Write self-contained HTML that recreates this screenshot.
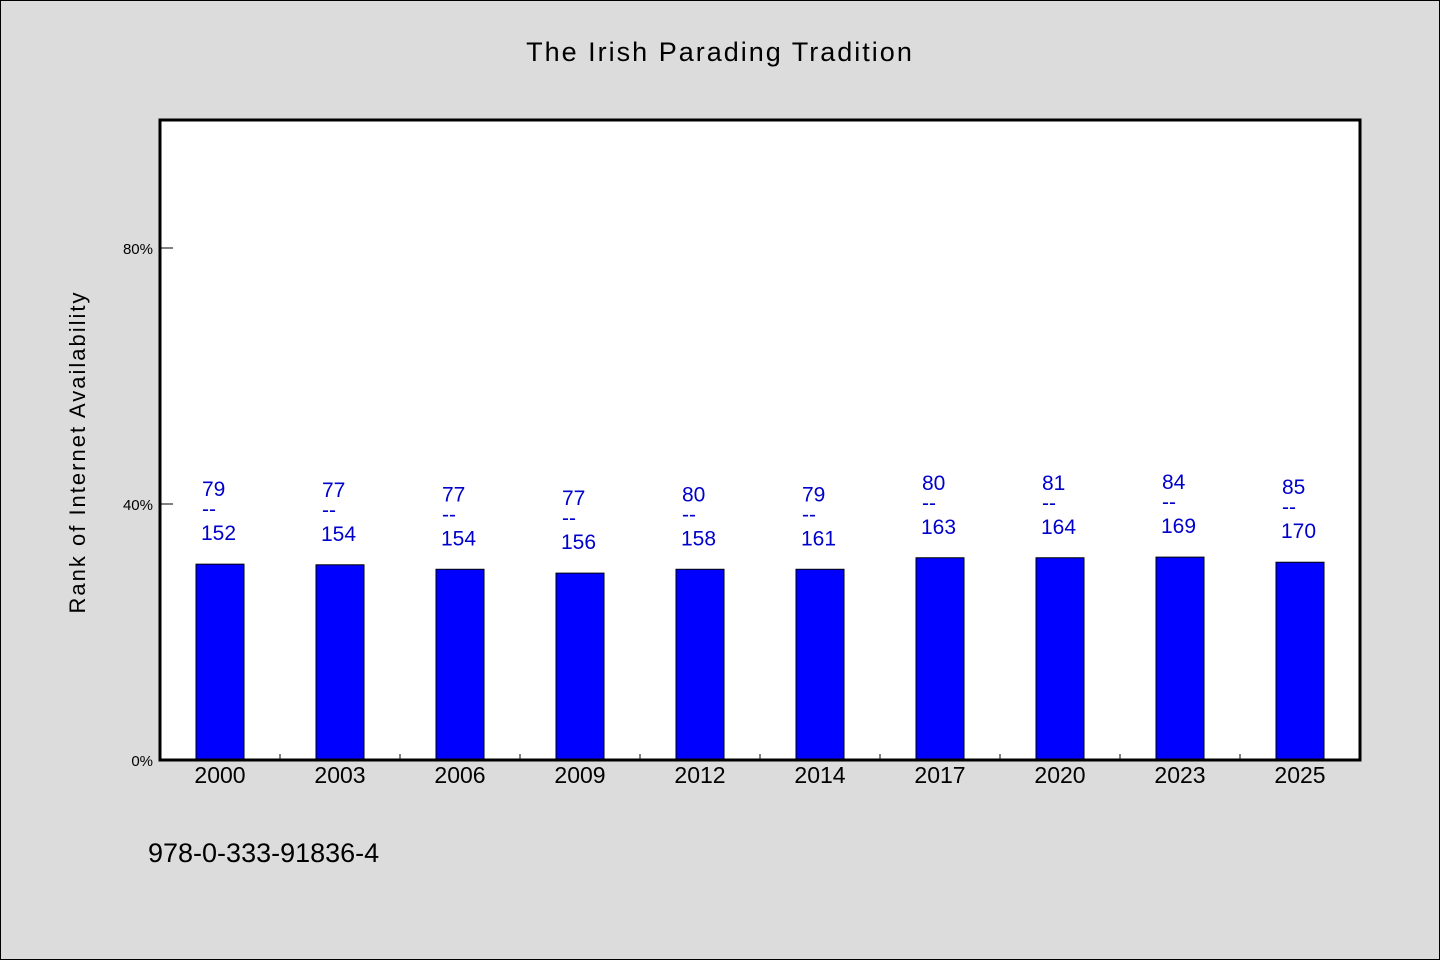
<!DOCTYPE html>
<html><head><meta charset="utf-8"><style>
body{margin:0;background:#dcdcdc;}
svg{display:block;font-family:"WenQuanYi Zen Hei","Liberation Sans",sans-serif;}
</style></head><body>
<svg id="c" width="1440" height="960">
<rect x="0.5" y="0.5" width="1439" height="959" fill="#dcdcdc" stroke="#000" stroke-width="1"/>
<text x="720" y="61" text-anchor="middle" font-size="27" letter-spacing="2">The Irish Parading Tradition</text>
<rect x="160" y="120" width="1200" height="640" fill="#fff"/>
<g id="bars"></g>
<g id="axes"></g>
<rect x="160" y="120" width="1200" height="640" fill="none" stroke="#000" stroke-width="3"/>
<text transform="translate(85,452) rotate(-90)" text-anchor="middle" font-size="22" letter-spacing="2">Rank of Internet Availability</text>
<text x="148" y="862" font-size="27">978-0-333-91836-4</text>
</svg>
<script>
const categories=["2000","2003","2006","2009","2012","2014","2017","2020","2023","2025"];
const barValues=[30.6,30.5,29.8,29.2,29.8,29.8,31.6,31.6,31.7,30.9];
const topLabels=[79,77,77,77,80,79,80,81,84,85];
const bottomLabels=[152,154,154,156,158,161,163,164,169,170];
const yTicks=[0,40,80];
const NS="http://www.w3.org/2000/svg";
const x0=160,pw=1200,y0=760,ph=640,ymax=100;
const band=pw/categories.length;
const xc=i=>x0+band*(i+0.5);
const ys=v=>y0-v/ymax*ph;
function mk(t,a,p){const e=document.createElementNS(NS,t);for(const k in a)e.setAttribute(k,a[k]);p.appendChild(e);return e;}
const bars=document.getElementById('bars'),axes=document.getElementById('axes');
categories.forEach((c,i)=>{
 const top=ys(barValues[i]);
 const r=mk('rect',{x:xc(i)-24,y:top,width:48,height:y0-top,fill:'#0000ff',stroke:'#000','stroke-width':1},bars);
 
 
 const lx=xc(i)-18;
 const t1=mk('text',{x:lx,y:top-68,'font-size':21,fill:'#0000cc'},bars);t1.textContent=topLabels[i];
 
 
 const t2=mk('text',{x:lx,y:top-48,'font-size':21,fill:'#0000cc'},bars);t2.textContent='--';
 
 
 const t3=mk('text',{x:lx-1,y:top-24,'font-size':21,fill:'#0000cc'},bars);t3.textContent=bottomLabels[i];
 
 
 const xl=mk('text',{x:xc(i),y:783,'font-size':23,'text-anchor':'middle'},axes);xl.textContent=c;
 
 
 if(i>0){const tk=mk('line',{x1:x0+band*i,x2:x0+band*i,y1:y0,y2:y0-6,stroke:'#000'},axes);
 
 }
});
yTicks.forEach(v=>{
 const y=ys(v);
 const l=mk('line',{x1:x0,x2:x0+13,y1:y,y2:y,stroke:'#000'},axes);
 
 
 const t=mk('text',{x:153,y:y+6,'font-size':15,'text-anchor':'end'},axes);t.textContent=v+'%';
 
 
});
</script>
</body></html>
